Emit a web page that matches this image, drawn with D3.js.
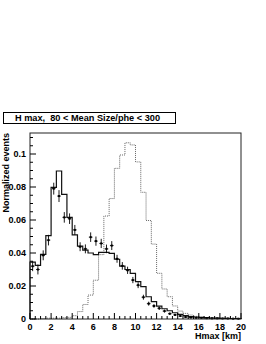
<!DOCTYPE html>
<html><head><meta charset="utf-8">
<script src="https://cdn.jsdelivr.net/npm/d3@7/dist/d3.min.js"></script>
<style>
html,body{margin:0;padding:0;background:#fff;}
text{font-family:"Liberation Sans",Arial,sans-serif;font-weight:bold;white-space:pre;}
</style></head><body>
<svg id="c" width="266" height="344"></svg>
<script>
// bin edges 0..20 in 0.5 km steps (40 bins)
const binWidth = 0.5;
const xTickLabels = ["0","2","4","6","8","10","12","14","16","18","20"];
const yTickLabels = ["0","0.02","0.04","0.06","0.08","0.1"];
// solid histogram (MC)
const solidHist = [0.0345,0.0325,0.0392,0.0505,0.0798,0.0897,0.0755,0.0616,0.0510,0.0442,
  0.0418,0.0400,0.0390,0.0404,0.0404,0.0398,0.0362,0.0320,0.0300,0.0277,
  0.0226,0.0196,0.0135,0.0105,0.0078,0.0062,0.0050,0.0038,0.0028,0.0020,
  0.0015,0.0012,0.0010,0.0008,0.0006,0.0005,0.0004,0.0004,0.0003,0.0003];
// dotted histogram
const dottedHist = [0,0,0.0003,0.0005,0.0005,0.0005,0.0008,0.0010,0.0020,0.0045,
  0.0088,0.0145,0.0235,0.0390,0.0624,0.0730,0.0913,0.0994,0.1068,0.1055,
  0.0952,0.0768,0.0597,0.0454,0.0277,0.0182,0.0135,0.0079,0.0048,0.0034,
  0.0024,0.0016,0.0011,0.0008,0.0006,0.0005,0.0004,0.0003,0.0003,0.0002];
// data points (bin centres) with errors
const dataVals = [0.0320,0.0300,0.0386,0.0478,0.0790,0.0745,0.0616,0.0608,0.0540,0.0438,
  0.0425,0.0496,0.0472,0.0458,0.0425,0.0445,0.0365,0.0322,0.0295,0.0236,
  0.0205,0.0132,0.0093,0.0079,0.0065,0.0048,0.0032,0.0025,0.0018,0.0012,
  0.0009,0.0007,0.0006,0.0005,0.0004,0.0004,0.0003,0.0003,0.0002,0.0002];
const dataErrs = [0.0030,0.0030,0.0030,0.0032,0.0036,0.0036,0.0032,0.0032,0.0030,0.0027,
  0.0027,0.0029,0.0028,0.0028,0.0026,0.0027,0.0024,0.0023,0.0022,0.0019,
  0.0018,0.0015,0.0012,0.0011,0.0010,0.0009,0.0007,0.0006,0.0005,0.0004,
  0.0004,0.0003,0.0003,0.0003,0.0002,0.0002,0.0002,0.0002,0.0001,0.0001];

const svg = d3.select("#c");
const x = d3.scaleLinear().domain([0,20]).range([30,241]);
const y = d3.scaleLinear().domain([0,0.11273]).range([319,133]);

// title box
svg.append("rect").attr("x",3.5).attr("y",112.5).attr("width",172).attr("height",11)
  .attr("fill","#fff").attr("stroke","#000").attr("stroke-width",1);
svg.append("text").attr("x",87.5).attr("y",121.4).attr("text-anchor","middle")
  .attr("font-size","9.2px").attr("xml:space","preserve").text("H max,  80 < Mean Size/phe < 300");

function stepPath(vals){
  let p = "M"+x(0)+","+y(0);
  vals.forEach((v,i)=>{
    p += "L"+x(i*binWidth)+","+y(v)+"L"+x((i+1)*binWidth)+","+y(v);
  });
  p += "L"+x(20)+","+y(0);
  return p;
}

svg.append("path").attr("d",stepPath(dottedHist)).attr("fill","none")
  .attr("stroke","#666").attr("stroke-width",1).attr("stroke-dasharray","1,1");
svg.append("path").attr("d",stepPath(solidHist)).attr("fill","none")
  .attr("stroke","#111").attr("stroke-width",1.2);

// data points
const g = svg.append("g");
dataVals.forEach((v,i)=>{
  const cx = x((i+0.5)*binWidth), cy = y(v);
  g.append("line").attr("x1",cx).attr("x2",cx).attr("y1",y(v-dataErrs[i])).attr("y2",y(v+dataErrs[i]))
    .attr("stroke","#000").attr("stroke-width",0.9);
  g.append("line").attr("x1",cx-1.8).attr("x2",cx+1.8).attr("y1",cy).attr("y2",cy)
    .attr("stroke","#000").attr("stroke-width",0.9);
  g.append("rect").attr("x",cx-1).attr("y",cy-1).attr("width",2).attr("height",2).attr("fill","#000");
});

// frame
svg.append("rect").attr("x",30).attr("y",133).attr("width",211).attr("height",186)
  .attr("fill","none").attr("stroke","#222").attr("stroke-width",1);

// axes with inward ticks
const xMinor = d3.range(0,20.01,0.5);
svg.append("g").selectAll("line").data(xMinor).join("line")
  .attr("x1",d=>x(d)).attr("x2",d=>x(d)).attr("y1",319)
  .attr("y2",d=>Math.abs(d/2-Math.round(d/2))<1e-6?313:316)
  .attr("stroke","#000").attr("stroke-width",1);
const yMinor = d3.range(0,0.1126,0.005);
svg.append("g").selectAll("line").data(yMinor).join("line")
  .attr("y1",d=>y(d)).attr("y2",d=>y(d)).attr("x1",30)
  .attr("x2",(d,i)=>i%4===0?36:33)
  .attr("stroke","#000").attr("stroke-width",1);

// tick labels
svg.append("g").selectAll("text").data(xTickLabels).join("text")
  .attr("x",(d,i)=>x(i*2)).attr("y",330).attr("text-anchor","middle")
  .attr("font-size","9px").text(d=>d);
svg.append("g").selectAll("text").data(yTickLabels).join("text")
  .attr("x",26).attr("y",(d,i)=>y(i*0.02)+3).attr("text-anchor","end")
  .attr("font-size","9px").text(d=>d);

svg.append("text").attr("x",241).attr("y",339).attr("text-anchor","end")
  .attr("font-size","9px").text("Hmax [km]");
svg.append("text").attr("transform","translate(9,133) rotate(-90)").attr("text-anchor","end")
  .attr("font-size","9px").text("Normalized events");
</script></body></html>
